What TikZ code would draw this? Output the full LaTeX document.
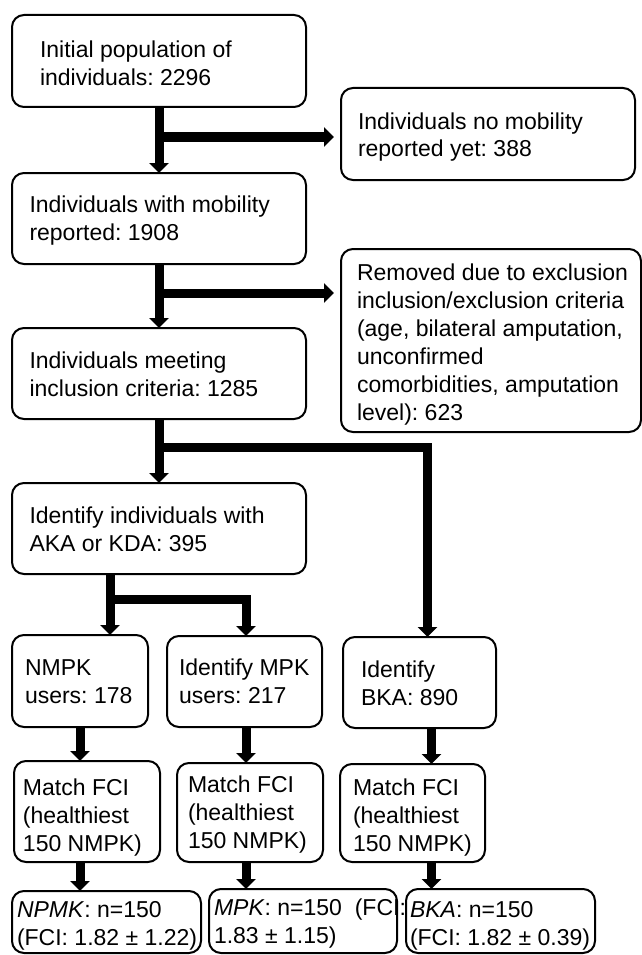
\documentclass[tikz,border=0pt]{standalone}
\usepackage{fontspec}
\setmainfont{Liberation Sans}
\frenchspacing
\usetikzlibrary{arrows.meta}
\tikzset{
  box/.style={draw, line width=2pt, rounded corners=12pt, inner sep=0pt, outer sep=0pt, anchor=north west},
  txt/.style={anchor=base west, align=left, inner sep=0pt, outer sep=0pt, font=\fontsize{23}{28}\selectfont\frenchspacing},
  arr/.style={line width=9pt, line join=miter, -{Triangle[width=19pt,length=10pt]}},
}
\begin{document}
\begin{tikzpicture}[x=1pt,y=-1pt]
\useasboundingbox[fill=white] (0,0) rectangle (642,955);
% boxes
\node[box, minimum width=294pt, minimum height=92pt] (b1) at (12,15) {};
\node[box, minimum width=294pt, minimum height=92pt] (nm) at (341,88) {};
\node[box, minimum width=294pt, minimum height=91pt] (b2) at (12,173) {};
\node[box, minimum width=300pt, minimum height=183pt] (rm) at (341,249) {};
\node[box, minimum width=294pt, minimum height=91pt] (b3) at (12,328) {};
\node[box, minimum width=294pt, minimum height=91pt] (b4) at (12,483) {};
\node[box, minimum width=136pt, minimum height=92pt] (r1) at (12,635) {};
\node[box, minimum width=155pt, minimum height=91pt] (r2) at (167,636) {};
\node[box, minimum width=153pt, minimum height=91pt] (r3) at (343,637) {};
\node[box, minimum width=146pt, minimum height=101pt] (m1) at (14,761) {};
\node[box, minimum width=146pt, minimum height=99pt] (m2) at (177,763) {};
\node[box, minimum width=145pt, minimum height=98pt] (m3) at (340,764) {};
\node[box, minimum width=189pt, minimum height=62pt] (f1) at (12,891) {};
\node[box, minimum width=188pt, minimum height=64pt] (f2) at (209,889) {};
\node[box, minimum width=189pt, minimum height=64pt] (f3) at (406,889) {};
% texts (anchored at the baseline of the last line)
\node[txt] (t1) at (40,86) {Initial population of\\individuals: 2296};
\node[txt] (tnm) at (358,157) {Individuals no mobility\\reported yet: 388};
\node[txt] (t2) at (29.5,240) {Individuals with mobility\\reported: 1908};
\node[txt] (trm) at (357,420) {Removed due to exclusion\\inclusion/exclusion criteria\\(age, bilateral amputation,\\unconfirmed\\comorbidities, amputation\\level): 623};
\node[txt] (t3) at (29.5,396) {Individuals meeting\\inclusion criteria: 1285};
\node[txt] (t4) at (29.5,551) {Identify individuals with\\AKA or KDA: 395};
\node[txt] (tr1) at (25,703) {NMPK\\users: 178};
\node[txt] (tr2) at (179,703) {Identify MPK\\users: 217};
\node[txt] (tr3) at (361,705) {Identify\\BKA: 890};
\node[txt] (tm1) at (23,851) {Match FCI\\(healthiest\\150 NMPK)};
\node[txt] (tm2) at (188,848) {Match FCI\\(healthiest\\150 NMPK)};
\node[txt] (tm3) at (353,851) {Match FCI\\(healthiest\\150 NMPK)};
\node[txt] (tf1) at (17,945) {\textit{NPMK}: n=150\\(FCI: 1.82 ± 1.22)};
\node[txt] (tf2) at (214,943) {\textit{MPK}: n=150\ \ (FCI:\\1.83 ± 1.15)};
\node[txt] (tf3) at (410,945) {\textit{BKA}: n=150\\(FCI: 1.82 ± 0.39)};
% connectors
\coordinate (j1) at (159,137);
\coordinate (j2) at (159,293);
\coordinate (j3) at (159,447);
\coordinate (j4) at (110,599);
\draw[arr] (b1.south) -- (b2.north);
\draw[arr, shorten >=7pt] (j1) -- (j1 -| nm.west);
\draw[arr] (b2.south) -- (b3.north);
\draw[arr, shorten >=7pt] (j2) -- (j2 -| rm.west);
\draw[arr] (b3.south) -- (b4.north);
\draw[arr] (j3) -| ([xshift=8pt]r3.north);
\draw[arr] (j4 |- b4.south) -- (j4 |- r1.north);
\draw[arr] (j4) -| ([xshift=1.5pt]r2.north);
\draw[arr] (r1.south) -- (r1.south |- m1.north);
\draw[arr] ([xshift=1.5pt]r2.south) -- ([xshift=1.5pt]r2.south |- m2.north);
\draw[arr] ([xshift=12pt]r3.south) -- ([xshift=12pt]r3.south |- m3.north);
\draw[arr] (r1.south |- m1.south) -- (r1.south |- f1.north);
\draw[arr] ([xshift=1.5pt]r2.south |- m2.south) -- ([xshift=1.5pt]r2.south |- f2.north);
\draw[arr] ([xshift=12pt]r3.south |- m3.south) -- ([xshift=12pt]r3.south |- f3.north);
\end{tikzpicture}
\end{document}
